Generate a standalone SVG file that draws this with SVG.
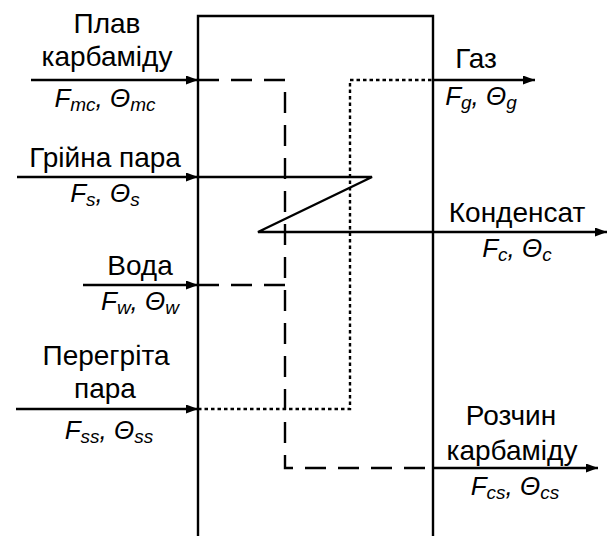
<svg xmlns="http://www.w3.org/2000/svg" width="613" height="536" viewBox="0 0 613 536">
<style>
.ln{fill:none;stroke:#000;stroke-width:2.4}
.dash{fill:none;stroke:#000;stroke-width:2.4;stroke-dasharray:21,12}
.dot{fill:none;stroke:#000;stroke-width:2.4;stroke-dasharray:3.5,3}
text{font-family:"Liberation Sans",Arial,sans-serif;font-size:28px;fill:#000;text-anchor:middle}
.it{font-style:italic;font-size:26px}
.sub{font-size:19px}
</style>
<defs>
<marker id="ah" markerUnits="userSpaceOnUse" markerWidth="13" markerHeight="10" refX="12" refY="4.5" orient="auto">
<path d="M0,0 L12,4.5 L0,9 z" fill="#000"/>
</marker>
</defs>
<rect width="613" height="536" fill="#fff"/>
<g id="apparatus">
<path class="ln" d="M198,537 V16 H433 V537"/>
</g>
<g id="connectors">
<path class="dash" d="M198,80 H285 V468 H433"/>
<path class="dash" d="M198,285 H285"/>
<path class="dot" d="M198,409 H350 V80 H433"/>
<path class="ln" d="M198,177 H372 L258,232 H433"/>
<line class="ln" x1="31" y1="80" x2="198" y2="80" marker-end="url(#ah)"/>
<line class="ln" x1="17" y1="177" x2="198" y2="177" marker-end="url(#ah)"/>
<line class="ln" x1="83" y1="285" x2="198" y2="285" marker-end="url(#ah)"/>
<line class="ln" x1="16" y1="409" x2="198" y2="409" marker-end="url(#ah)"/>
<line class="ln" x1="433" y1="80" x2="535" y2="80" marker-end="url(#ah)"/>
<line class="ln" x1="433" y1="232" x2="607" y2="232" marker-end="url(#ah)"/>
<line class="ln" x1="433" y1="468" x2="598" y2="468" marker-end="url(#ah)"/>
</g>
<g id="in-melt">
<text x="107" y="33">Плав</text>
<text x="107" y="66">карбаміду</text>
<text x="105" y="107" class="it">F<tspan class="sub" dy="4">mc</tspan><tspan dy="-4">, Θ</tspan><tspan class="sub" dy="4">mc</tspan></text>
</g>
<g id="out-gas">
<text x="476" y="68">Газ</text>
<text x="481" y="105" class="it">F<tspan class="sub" dy="4">g</tspan><tspan dy="-4">, Θ</tspan><tspan class="sub" dy="4">g</tspan></text>
</g>
<g id="in-steam">
<text x="105" y="167">Грійна пара</text>
<text x="105" y="202" class="it">F<tspan class="sub" dy="4">s</tspan><tspan dy="-4">, Θ</tspan><tspan class="sub" dy="4">s</tspan></text>
</g>
<g id="out-condensate">
<text x="517" y="222">Конденсат</text>
<text x="517" y="257" class="it">F<tspan class="sub" dy="4">c</tspan><tspan dy="-4">, Θ</tspan><tspan class="sub" dy="4">c</tspan></text>
</g>
<g id="in-water">
<text x="140" y="275">Вода</text>
<text x="140" y="310" class="it">F<tspan class="sub" dy="4">w</tspan><tspan dy="-4">, Θ</tspan><tspan class="sub" dy="4">w</tspan></text>
</g>
<g id="in-superheated">
<text x="106" y="365">Перегріта</text>
<text x="105" y="398">пара</text>
<text x="109" y="439" class="it">F<tspan class="sub" dy="4">ss</tspan><tspan dy="-4">, Θ</tspan><tspan class="sub" dy="4">ss</tspan></text>
</g>
<g id="out-solution">
<text x="511" y="425">Розчин</text>
<text x="512" y="460">карбаміду</text>
<text x="515" y="495" class="it">F<tspan class="sub" dy="4">cs</tspan><tspan dy="-4">, Θ</tspan><tspan class="sub" dy="4">cs</tspan></text>
</g>
</svg>
